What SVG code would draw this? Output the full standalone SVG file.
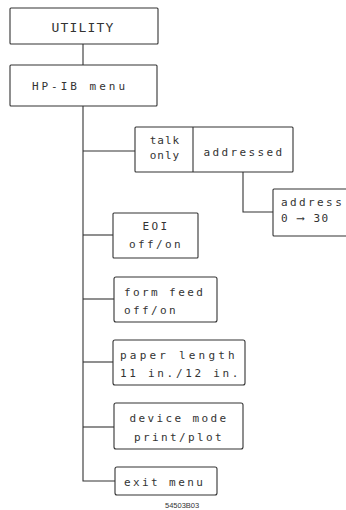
<svg xmlns="http://www.w3.org/2000/svg" width="346" height="510" viewBox="0 0 346 510">
<style>
.box{fill:#fff;stroke:#333;stroke-width:1.1}
.ln{fill:none;stroke:#333;stroke-width:1.1}
text{font-family:"DejaVu Sans Mono","Liberation Mono",monospace;font-size:11px;fill:#333;letter-spacing:2.4px}
.c{text-anchor:middle}
.lbl{font-family:"Liberation Sans",Arial,sans-serif;font-size:7.5px;letter-spacing:0}
</style>
<rect width="346" height="510" fill="#fff"/>
<g id="connectors">
<line class="ln" x1="83" y1="44" x2="83" y2="65"/>
<polyline class="ln" points="83,106 83,481 115,481"/>
<line class="ln" x1="83" y1="151" x2="135" y2="151"/>
<line class="ln" x1="83" y1="235" x2="113" y2="235"/>
<line class="ln" x1="83" y1="299" x2="114" y2="299"/>
<line class="ln" x1="83" y1="362" x2="113" y2="362"/>
<line class="ln" x1="83" y1="427" x2="114" y2="427"/>
<polyline class="ln" points="243,172 243,212 273,212"/>
</g>
<g id="utility">
<rect class="box" x="10" y="8" width="148" height="36" rx="1"/>
<text class="c" x="83" y="32" style="font-size:13px;letter-spacing:1.2px">UTILITY</text>
</g>
<g id="hpib">
<rect class="box" x="10" y="65" width="147" height="41" rx="1"/>
<text class="c" x="80" y="90" style="letter-spacing:3px">HP-IB menu</text>
</g>
<g id="talk">
<rect class="box" x="135" y="127" width="158" height="45" rx="1"/>
<line class="ln" x1="193" y1="127" x2="193" y2="172"/>
<text class="c" x="165" y="144" style="letter-spacing:1px">talk</text>
<text class="c" x="165" y="159" style="letter-spacing:1px">only</text>
<text class="c" x="244" y="156">addressed</text>
</g>
<g id="address">
<rect class="box" x="273" y="189" width="80" height="47" rx="1"/>
<text x="281" y="206">address</text>
<text x="281" y="222" style="letter-spacing:1.5px">0 ⟶ 30</text>
</g>
<g id="eoi">
<rect class="box" x="113" y="213" width="85" height="45" rx="1"/>
<text class="c" x="156" y="230">EOI</text>
<text class="c" x="156" y="248">off/on</text>
</g>
<g id="formfeed">
<rect class="box" x="114" y="277" width="103" height="45" rx="2"/>
<text x="124" y="296">form feed</text>
<text x="124" y="314">off/on</text>
</g>
<g id="paper">
<rect class="box" x="113" y="340" width="132" height="45" rx="2"/>
<text x="120" y="359" style="letter-spacing:3.2px">paper length</text>
<text x="120" y="377" style="letter-spacing:2.7px">11 in./12 in.</text>
</g>
<g id="device">
<rect class="box" x="114" y="403" width="129" height="46" rx="2"/>
<text class="c" x="179" y="422">device mode</text>
<text class="c" x="179" y="441">print/plot</text>
</g>
<g id="exit">
<rect class="box" x="115" y="467" width="102" height="28" rx="2"/>
<text x="124" y="486">exit menu</text>
</g>
<text class="lbl" x="165" y="508">54503B03</text>
</svg>
